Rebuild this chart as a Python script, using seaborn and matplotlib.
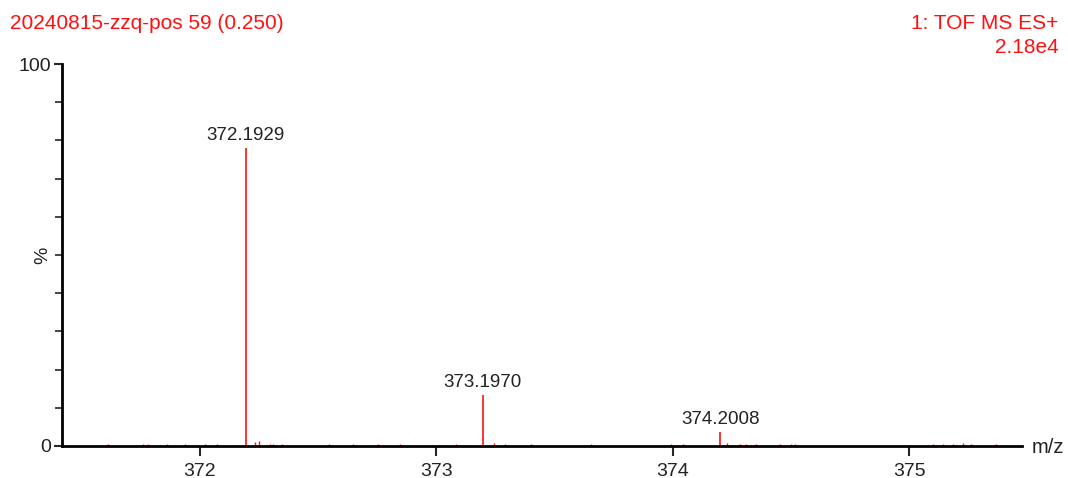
import matplotlib
matplotlib.use("Agg")
import matplotlib.pyplot as plt
import seaborn as sns
from matplotlib.ticker import MultipleLocator, FixedLocator

# Spectrum data (m/z, relative intensity %)
main_mz = [372.1929, 373.1970, 374.2008]
main_int = [78.0, 13.4, 3.7]
main_labels = ["372.1929", "373.1970", "374.2008"]

noise_mz = [371.436, 371.612, 371.760, 371.781, 371.831, 371.859, 371.894, 371.937,
            371.986, 372.021, 372.049, 372.071, 372.099, 372.127, 372.233, 372.251,
            372.296, 372.310, 372.345, 372.500, 372.547, 372.564, 372.648, 372.726,
            372.754, 372.846, 372.857, 372.909, 373.085, 373.245, 373.290, 373.342,
            373.402, 373.656, 373.720, 373.734, 373.994, 374.044, 374.072, 374.230,
            374.283, 374.312, 374.354, 374.410, 374.452, 374.502, 374.516, 375.101,
            375.143, 375.185, 375.228, 375.263, 375.369]
noise_int = [0.3, 0.4, 0.5, 0.4, 0.3, 0.4, 0.3, 0.4,
             0.3, 0.4, 0.3, 0.4, 0.3, 0.3, 1.1, 1.2,
             0.4, 0.5, 0.4, 0.3, 0.4, 0.3, 0.5, 0.3,
             0.4, 0.4, 0.3, 0.3, 0.4, 0.9, 0.4, 0.3,
             0.4, 0.4, 0.3, 0.3, 0.4, 0.5, 0.3, 0.9,
             0.5, 0.6, 0.4, 0.3, 0.4, 0.6, 0.5, 0.4,
             0.5, 0.5, 0.7, 0.6, 0.4]

x_ticks = [372, 373, 374, 375]

sns.set_style("ticks")
plt.rcParams['font.family'] = ['Liberation Sans', 'DejaVu Sans']

fig = plt.figure(figsize=(10.68, 4.78), dpi=100)
ax = fig.add_axes([0.058, 0.067, 0.899, 0.799])

red = "#ff1010"
ax.vlines(noise_mz, 0, noise_int, color=red, linewidth=1.0)
ax.vlines(main_mz, 0, main_int, color=red, linewidth=1.2)
for mz, it, lab in zip(main_mz, main_int, main_labels):
    ax.annotate(lab, (mz, it), xytext=(0, 3), textcoords="offset points",
                ha="center", va="bottom", fontsize=13.5, color="#222222")

ax.set_xlim(371.416, 375.478)
ax.set_ylim(0, 100)

ax.xaxis.set_major_locator(FixedLocator(x_ticks))
ax.yaxis.set_major_locator(FixedLocator([0, 100]))
ax.yaxis.set_minor_locator(MultipleLocator(10))
ax.tick_params(axis="x", which="major", length=7, width=1.5, labelsize=14,
               labelcolor="#222222", pad=5)
ax.tick_params(axis="y", which="major", length=6, width=1.5, labelsize=14,
               labelcolor="#222222", pad=2)
ax.tick_params(axis="y", which="minor", length=5, width=1.2)

sns.despine(ax=ax)
for s in ["left", "bottom"]:
    ax.spines[s].set_linewidth(2)
    ax.spines[s].set_color("black")

ax.set_ylabel("%", fontsize=14, color="#222222")
ax.yaxis.set_label_coords(-0.0115, 0.5)
ax.set_xlabel("")

fig.text(0.009, 0.951, "20240815-zzq-pos 59 (0.250)", color=red, fontsize=15,
         ha="left", va="center")
fig.text(0.991, 0.951, "1: TOF MS ES+", color=red, fontsize=15, ha="right", va="center")
fig.text(0.991, 0.901, "2.18e4", color=red, fontsize=15, ha="right", va="center")
fig.text(0.966, 0.063, "m/z", color="#222222", fontsize=14.5, ha="left", va="center")

fig.savefig("out.png", dpi=100)
